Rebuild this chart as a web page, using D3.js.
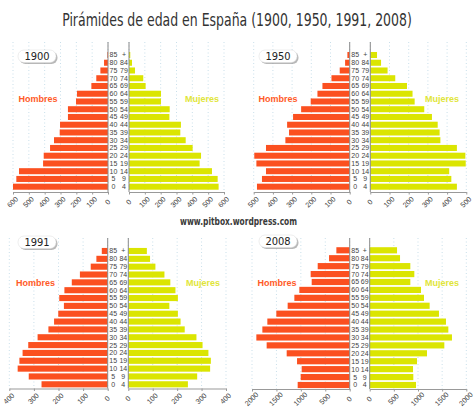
<!DOCTYPE html>
<html>
<head>
<meta charset="utf-8">
<script src="https://cdn.jsdelivr.net/npm/d3@7"></script>
<style>
  html, body { margin: 0; padding: 0; background: #fff; }
  svg { display: block; }
</style>
</head>
<body>
<svg id="chart" width="474" height="413"></svg>
<script>
// ---------- DATA ----------
const title = "Pirámides de edad en España (1900, 1950, 1991, 2008)";
const watermark = "www.pitbox.wordpress.com";
const ageFrom = ["0","5","10","15","20","25","30","35","40","45","50","55","60","65","70","75","80","85"];
const ageTo   = ["4","9","14","19","24","29","34","39","44","49","54","59","64","69","74","79","84","+"];
const years = ["1900", "1950", "1991", "2008"];
const men1900   = [600,579,562,410,406,366,341,305,303,253,253,202,196,105,74,48,25,4];
const women1900 = [566,560,524,446,455,402,358,324,328,255,257,202,202,105,90,38,19,8];
const men1950   = [483,457,436,486,497,436,335,316,326,295,253,203,168,142,95,52,24,12];
const women1950 = [451,422,411,497,495,451,365,361,351,321,281,231,220,191,130,90,56,35];
const men1991   = [269,321,366,359,346,323,285,241,218,201,178,197,176,146,113,69,46,24];
const women1991 = [244,282,335,338,328,304,279,231,214,203,168,203,193,172,148,111,89,76];
const men2008   = [1065,1003,983,1078,1290,1700,1911,1788,1686,1502,1270,1133,1031,778,799,655,423,273];
const women2008 = [959,903,897,979,1186,1545,1703,1628,1579,1434,1241,1124,1062,841,924,841,628,566];
const ticks1900 = [0,100,200,300,400,500,600];
const ticks1950 = [0,100,200,300,400,500];
const ticks1991 = [0,100,200,300,400];
const ticks2008 = [0,500,1000,1500,2000];
const labelMen = "Hombres";
const labelWomen = "Mujeres";

// ---------- LAYOUT ----------
const panels = [
  {year: years[0], men: men1900, women: women1900, ticks: ticks1900,
   lx0: 13, lx1: 108, rx0: 129, rx1: 224, yTop: 55, yBot: 186.7, axisY: 192, lineTop: 42,
   box: [18, 50], hx: 38, mx: 202, hy: 99},
  {year: years[1], men: men1950, women: women1950, ticks: ticks1950,
   lx0: 253.7, lx1: 349.7, rx0: 370.3, rx1: 466.3, yTop: 55, yBot: 186.7, axisY: 192, lineTop: 42,
   box: [259, 50], hx: 278, mx: 442, hy: 98.5},
  {year: years[2], men: men1991, women: women1991, ticks: ticks1991,
   lx0: 9.3, lx1: 107.7, rx0: 128.3, rx1: 226, yTop: 251, yBot: 384.3, axisY: 388.5, lineTop: 238,
   box: [18, 236], hx: 35.5, mx: 203, hy: 283},
  {year: years[3], men: men2008, women: women2008, ticks: ticks2008,
   lx0: 252, lx1: 349.7, rx0: 369.7, rx1: 466.3, yTop: 250.3, yBot: 385, axisY: 389, lineTop: 238,
   box: [259, 235], hx: 277, mx: 442, hy: 283}
];

const menColor = "#fb5020";
const womenColor = "#dbe501";
const svg = d3.select("#chart");
svg.append("rect").attr("width", 474).attr("height", 413).attr("fill", "#fff");

// Title: fit width 350 by font size, then stretch vertically to match cap height
const titleG = svg.append("g");
const titleT = titleG.append("text")
  .attr("x", 0).attr("y", 0).attr("text-anchor", "middle")
  .attr("font-family", "'DejaVu Sans Condensed', 'Liberation Sans Narrow', sans-serif")
  .attr("font-size", 18).attr("fill", "#333")
  .text(title);
const natW = titleT.node().getComputedTextLength();
const fs = 18 * 350 / natW;
titleT.attr("font-size", fs);
titleG.attr("transform", `translate(237,26) scale(1,${18 / fs})`);

// Watermark
svg.append("text")
  .attr("x", 238.5).attr("y", 225).attr("text-anchor", "middle")
  .attr("textLength", 117).attr("lengthAdjust", "spacingAndGlyphs")
  .attr("font-family", "'DejaVu Sans Condensed', sans-serif")
  .attr("font-size", 10.5).attr("font-weight", "bold").attr("fill", "#3a3a3a")
  .text(watermark);

panels.forEach(p => {
  const g = svg.append("g");
  const max = p.ticks[p.ticks.length - 1];
  const xL = d3.scaleLinear().domain([0, max]).range([p.lx1, p.lx0]);
  const xR = d3.scaleLinear().domain([0, max]).range([p.rx0, p.rx1]);
  const n = ageFrom.length;
  const step = (p.yBot - p.yTop) / (n - 1);
  const y = d3.scaleBand()
    .domain(d3.range(n).reverse())
    .range([p.yTop - step / 2, p.yBot + step / 2])
    .paddingInner(0.22).paddingOuter(0.11);

  // dotted grid lines
  [xL, xR].forEach(sc => {
    g.selectAll(null).data(p.ticks).enter().append("line")
      .attr("x1", d => sc(d)).attr("x2", d => sc(d))
      .attr("y1", p.lineTop).attr("y2", p.axisY)
      .attr("stroke", "#c9dfea").attr("stroke-width", 1)
      .attr("stroke-dasharray", "1,2.5");
  });

  // bars
  g.selectAll(null).data(p.men).enter().append("rect")
    .attr("x", d => xL(d)).attr("width", d => xL(0) - xL(d))
    .attr("y", (d, i) => y(i)).attr("height", y.bandwidth())
    .attr("fill", menColor);
  g.selectAll(null).data(p.women).enter().append("rect")
    .attr("x", xR(0)).attr("width", d => xR(d) - xR(0))
    .attr("y", (d, i) => y(i)).attr("height", y.bandwidth())
    .attr("fill", womenColor);

  // central vertical lines
  [xL(0), xR(0)].forEach(x => {
    g.append("line").attr("x1", x).attr("x2", x)
      .attr("y1", p.lineTop).attr("y2", p.axisY)
      .attr("stroke", "#8a8a8a").attr("stroke-width", 1);
  });

  // age labels
  g.selectAll(null).data(ageFrom).enter().append("text")
    .attr("x", xL(0) + 5.5).attr("y", (d, i) => y(i) + y.bandwidth() / 2)
    .attr("dy", "0.35em").attr("text-anchor", "middle")
    .attr("font-family", "'Liberation Sans', Arial, sans-serif")
    .attr("font-size", 7).attr("fill", "#444").text(d => d);
  g.selectAll(null).data(ageTo).enter().append("text")
    .attr("x", xR(0) - 5).attr("y", (d, i) => y(i) + y.bandwidth() / 2)
    .attr("dy", "0.35em").attr("text-anchor", "middle")
    .attr("font-family", "'Liberation Sans', Arial, sans-serif")
    .attr("font-size", 7).attr("fill", "#444").text(d => d);

  // bottom axes
  [xL, xR].forEach(sc => {
    const ax = d3.axisBottom(sc).tickValues(p.ticks).tickSize(2.5).tickSizeOuter(0).tickFormat(d3.format("d"));
    const ag = g.append("g").attr("transform", `translate(0,${p.axisY})`).call(ax);
    ag.select(".domain").attr("stroke", "#999");
    ag.selectAll(".tick line").attr("stroke", "#999");
    ag.selectAll(".tick text")
      .attr("font-family", "'Liberation Sans', Arial, sans-serif")
      .attr("font-size", 7.2).attr("fill", "#444")
      .attr("text-anchor", "middle")
      .attr("x", 0).attr("y", 0).attr("dy", "0.35em")
      .attr("transform", "translate(-1,10) rotate(-45)");
  });

  // year label box
  const [bx, by] = p.box;
  g.append("rect").attr("x", bx + 1.5).attr("y", by + 1.5).attr("width", 38).attr("height", 12.5)
    .attr("rx", 6).attr("fill", "#9a9a9a").attr("opacity", 0.7);
  g.append("rect").attr("x", bx).attr("y", by).attr("width", 38).attr("height", 12.5)
    .attr("rx", 6).attr("fill", "#fff").attr("stroke", "#ddd").attr("stroke-width", 0.5);
  g.append("text").attr("x", bx + 19).attr("y", by + 6.5).attr("dy", "0.36em")
    .attr("text-anchor", "middle")
    .attr("font-family", "'Liberation Sans Narrow', 'DejaVu Sans Condensed', sans-serif")
    .attr("font-size", 11).attr("fill", "#222").text(p.year);

  // Hombres / Mujeres
  g.append("text").attr("x", p.hx).attr("y", p.hy).attr("dy", "0.36em")
    .attr("text-anchor", "middle").attr("font-family", "'Liberation Sans', Arial, sans-serif")
    .attr("font-size", 9.5).attr("font-weight", "bold").attr("fill", "#ff5a28")
    .attr("textLength", 39).attr("lengthAdjust", "spacingAndGlyphs")
    .text(labelMen);
  g.append("text").attr("x", p.mx).attr("y", p.hy).attr("dy", "0.36em")
    .attr("text-anchor", "middle").attr("font-family", "'Liberation Sans', Arial, sans-serif")
    .attr("font-size", 9.5).attr("font-weight", "bold").attr("fill", "#dfe53a")
    .attr("textLength", 34).attr("lengthAdjust", "spacingAndGlyphs")
    .text(labelWomen);
});
</script>
</body>
</html>
